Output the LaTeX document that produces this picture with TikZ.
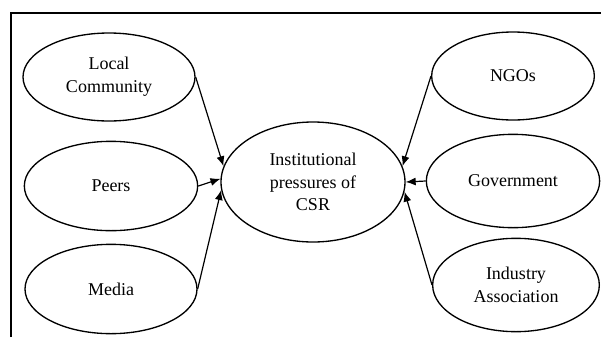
\documentclass[tikz,border=0pt]{standalone}
\usepackage{fontspec}
\setmainfont{Liberation Serif}
\usetikzlibrary{arrows,arrows.meta}
\usetikzlibrary{shapes.geometric}

\begin{document}
\begin{tikzpicture}[x=0.75pt,y=-0.75pt,
    oval/.style={draw,ellipse,line width=1pt,inner sep=0pt,align=center,
      font=\fontsize{13.5}{17}\selectfont},
    push/.style={-{Latex[length=7.5pt,width=6pt]},line width=0.9pt}]
      \useasboundingbox (0,0) rectangle (601,337);
      % frame
      \draw[line width=1.1pt] (11,337) -- (11,13) -- (601,13);
      % centre
      \node[oval,minimum width=138pt,minimum height=90pt] (csr) at (313,182) {Institutional\\pressures of\\CSR};
      % left side
      \node[oval,minimum width=129pt,minimum height=66pt] (lc) at (109,77) {Local\\Community};
      \node[oval,minimum width=130pt,minimum height=67pt] (peers) at (111,186) {Peers};
      \node[oval,minimum width=129pt,minimum height=67pt] (media) at (111,289) {Media};
      % right side
      \node[oval,minimum width=122pt,minimum height=66pt] (ngo) at (513,76) {NGOs};
      \node[oval,minimum width=130pt,minimum height=70pt] (gov) at (513,181) {Government};
      \node[oval,minimum width=125pt,minimum height=70pt] (ind) at (516,285) {Industry\\Association};
      % pressures
      \draw[push] (lc.east) -- (csr.170);
      \draw[push] (peers.east) -- (csr.178);
      \draw[push] (media.east) -- (csr.185);
      \draw[push] (ngo.west) -- (csr.10);
      \draw[push] (gov.west) -- (csr.east);
      \draw[push] (ind.west) -- (csr.354);
\end{tikzpicture}
\end{document}
